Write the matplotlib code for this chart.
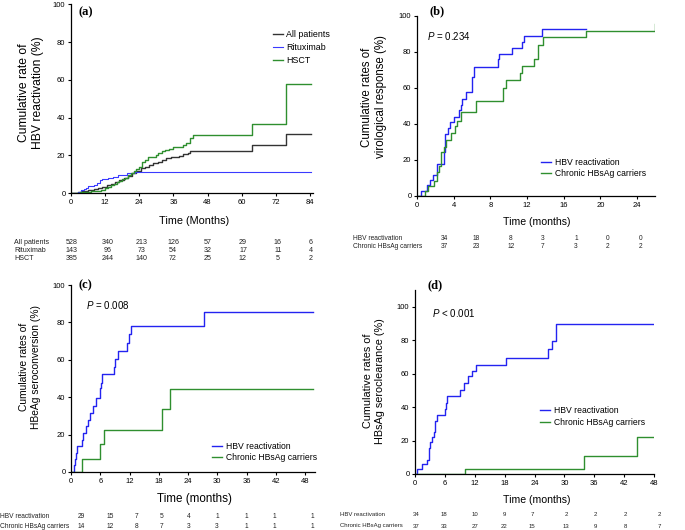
import matplotlib
matplotlib.use("Agg")
import matplotlib.pyplot as plt

plt.rcParams['font.family'] = 'Liberation Sans'
plt.rcParams['mathtext.fontset'] = 'custom'
plt.rcParams['mathtext.it'] = 'Liberation Sans:italic'
plt.rcParams['mathtext.rm'] = 'Liberation Sans'

BLUE = '#2323f0'
GREEN = '#2f8f2f'
BLACK = '#333333'

# ---- panel (a): HBV reactivation ----
a_all_t = [0, 2.5, 4, 6, 8, 9.5, 11, 12.5, 14, 15.5, 17, 18.5, 20, 21.5, 23, 24.5, 26, 27.5,
           29, 30.5, 32, 33.5, 35, 36.5, 38, 39.5, 41, 42, 43.5, 63.5, 75.5, 84.5]
a_all_y = [0, 0.5, 1, 1.5, 2, 2.5, 3.2, 4, 5, 6, 7, 8, 9.2, 10.5, 11.5, 13, 14, 15,
           15.7, 16.5, 17.5, 18.3, 19, 19.3, 19.7, 20.5, 21.3, 22, 22.5, 25.4, 31.5, 31.5]
a_rtx_t = [0, 2.6, 3.5, 4.5, 5.2, 6, 6.7, 8, 9, 10.2, 10.8, 13, 14.9, 16.6, 18, 19.6, 21, 22.5, 84.5]
a_rtx_y = [0, 0.7, 1.4, 2.1, 2.8, 3.5, 3.9, 4.5, 5.5, 6.9, 7.6, 7.9, 8.3, 9.5, 9.8, 10.4, 10.7, 10.9, 10.9]
a_hsct_t = [0, 3, 5, 7, 9, 10.5, 12, 13, 14, 15, 16, 17, 18, 19, 20, 21, 22, 23, 24, 24.8, 26,
            27.2, 28.5, 30, 30.7, 32, 33, 34.5, 36, 38, 39.5, 40.6, 41.8, 43, 63.5, 75.5, 84.5]
a_hsct_y = [0, 0.3, 0.6, 1, 1.3, 1.8, 2.5, 3.3, 4, 5, 5.8, 6.5, 7.3, 8.2, 9.3, 10.4, 11.5, 12.5, 14,
            16.6, 17.5, 18.9, 19.2, 20, 21, 22, 23, 23.5, 24.2, 24.6, 25.4, 26.6, 28.9, 30.5, 36.8, 57.8, 57.8]
a_groups = ['All patients', 'Rituximab', 'HSCT']
a_risk = [[528, 340, 213, 126, 57, 29, 16, 6],
          [143, 96, 73, 54, 32, 17, 11, 4],
          [385, 244, 140, 72, 25, 12, 5, 2]]

# ---- panel (b): virological response ----
b_hbv_t = [0, 0.47, 1.1, 1.46, 1.75, 2.2, 2.9, 3.1, 3.4, 3.65, 4.05, 4.6, 4.75, 4.9, 5.4, 5.95,
           6.05, 6.2, 8.8, 8.95, 10.4, 11.5, 11.7, 13.6, 18.4]
b_hbv_y = [0, 2.9, 5.9, 8.8, 11.8, 17.6, 24.6, 34.2, 37.5, 41, 44, 47.7, 50.5, 54, 57.9, 61,
           66, 71.7, 75.8, 78.7, 82.3, 85.6, 89, 92.4, 92.4]
b_chr_t = [0, 0.84, 1.2, 1.86, 2.2, 2.4, 2.66, 2.9, 3.2, 3.7, 4.1, 4.4, 4.85, 6.4, 9.4, 9.7,
           11.2, 11.5, 12.8, 13.2, 13.7, 18.4, 26.0]
b_chr_y = [0, 2.7, 5.4, 8.1, 13.5, 16.8, 24.6, 27.4, 31, 34.7, 38.8, 41.5, 46.8, 52.9, 60, 64.3,
           68, 72, 75.8, 84, 88, 91.7, 95.2]
b_groups = ['HBV reactivation', 'Chronic HBsAg carriers']
b_risk = [[34, 18, 8, 3, 1, 0, 0],
          [37, 23, 12, 7, 3, 2, 2]]

# ---- panel (c): HBeAg seroconversion ----
c_hbv_t = [0, 0.7, 0.9, 1.1, 1.3, 2.2, 2.5, 3.1, 3.5, 3.9, 4.6, 5.1, 5.9, 6.1, 6.4, 8.8, 9.0,
           9.7, 11.4, 11.8, 12.3, 27.3, 49.7]
c_hbv_y = [0, 3.5, 7, 10.3, 13.8, 17.2, 20.7, 24.4, 27.8, 31.4, 35.5, 39.4, 44.7, 47.8, 52.2,
           56.3, 60.6, 64.9, 69.2, 73.8, 78.0, 85.3, 85.3]
c_chr_t = [0, 2.2, 5.95, 6.8, 18.6, 20.3, 49.7]
c_chr_y = [0, 7.1, 14.8, 22.5, 33.7, 44.6, 44.6]
c_risk = [[29, 15, 7, 5, 4, 1, 1, 1, 1],
          [14, 12, 8, 7, 3, 3, 1, 1, 1]]

# ---- panel (d): HBsAg seroclearance ----
d_hbv_t = [0, 0.5, 1.5, 2.5, 2.9, 3.1, 3.5, 3.8, 4.0, 4.5, 6.0, 6.2, 6.5, 9.0, 9.8, 10.6,
           11.4, 12.2, 18.3, 26.8, 27.5, 28.3, 48]
d_hbv_y = [0, 3, 6, 8.5, 15.5, 19, 22, 25.4, 31.8, 35.4, 39, 42.7, 46.5, 50.3, 54.3, 58.3,
           61.8, 65.4, 69.6, 74.6, 79.5, 89.7, 89.7]
d_chr_t = [0, 10.0, 34.0, 44.5, 48]
d_chr_y = [0, 3.2, 10.9, 22.1, 22.1]
d_risk = [[34, 18, 10, 9, 7, 2, 2, 2, 2],
          [37, 33, 27, 22, 15, 13, 9, 8, 7]]

W, H = 685, 530
fig = plt.figure(figsize=(W / 100, H / 100), dpi=100)


def fx(x):
    return x / W


def fy(y):
    return 1 - y / H


def make_axes(left, right, top, bottom):
    ax = fig.add_axes([fx(left), fy(bottom), fx(right) - fx(left), fy(top) - fy(bottom)])
    ax.spines['top'].set_visible(False)
    ax.spines['right'].set_visible(False)
    for s in ('left', 'bottom'):
        ax.spines[s].set_linewidth(0.9)
    ax.tick_params(direction='out', length=2.5, width=0.8, labelsize=5.5, pad=1.5)
    return ax


def risk_table(labels, rows, label_x, num_x, row_y, size=5.1):
    for lab, row, y in zip(labels, rows, row_y):
        fig.text(fx(label_x), fy(y), lab, fontsize=size, ha='left', va='center', color='#222222')
        for v, x in zip(row, num_x):
            fig.text(fx(x), fy(y), str(v), fontsize=size, ha='center', va='center', color='#222222')


# (a)
ax = make_axes(71, 312.8, 4.3, 193)
ax.step(a_all_t, a_all_y, where='post', color=BLACK, lw=1, label='All patients')
ax.step(a_rtx_t, a_rtx_y, where='post', color='#3a3aff', lw=0.8, label='Rituximab')
ax.step(a_hsct_t, a_hsct_y, where='post', color=GREEN, lw=1, label='HSCT')
ax.set_xlim(0, 85)
ax.set_ylim(0, 100)
ax.set_xticks(range(0, 85, 12))
ax.set_yticks(range(0, 101, 20))
ax.legend(loc='upper left', bbox_to_anchor=(fx(273), fy(30)), bbox_transform=fig.transFigure,
          frameon=False, fontsize=6.4, handlelength=1.1, handletextpad=0.35, labelspacing=0.45,
          borderpad=0, borderaxespad=0)
fig.text(fx(86), fy(12), '(a)', fontfamily='Liberation Serif', fontweight='bold', fontsize=9,
         ha='center', va='center')
fig.text(fx(194), fy(221), 'Time (Months)', fontsize=7.8, ha='center', va='center')
fig.text(fx(31), fy(93), 'Cumulative rate of\nHBV reactivation (%)', fontsize=8.7,
         rotation=90, ha='center', va='center', linespacing=1.2)
risk_table(a_groups, a_risk, 14, [72, 108, 142, 173, 208, 243, 278, 311], [242, 250, 258])

# (b)
ax = make_axes(417, 655.3, 15.7, 196)
ax.step(b_hbv_t, b_hbv_y, where='post', color=BLUE, lw=1, label='HBV reactivation')
ax.step(b_chr_t, b_chr_y, where='post', color=GREEN, lw=1, label='Chronic HBsAg carriers')
ax.set_xlim(0, 26)
ax.set_ylim(0, 100)
ax.set_xticks(range(0, 25, 4))
ax.set_yticks(range(0, 101, 20))
ax.legend(loc='upper left', bbox_to_anchor=(fx(541), fy(158)), bbox_transform=fig.transFigure,
          frameon=False, fontsize=6.2, handlelength=1.2, handletextpad=0.4, labelspacing=0.2,
          borderpad=0, borderaxespad=0)
fig.text(fx(427), fy(36), '$P$ = 0.234', fontsize=7, ha='left', va='center')
fig.text(fx(437), fy(11), '(b)', fontfamily='Liberation Serif', fontweight='bold', fontsize=9,
         ha='center', va='center')
fig.text(fx(537), fy(222), 'Time (months)', fontsize=7.6, ha='center', va='center')
fig.text(fx(374), fy(97), 'Cumulative rates of\nvirological response (%)', fontsize=8.3,
         rotation=90, ha='center', va='center', linespacing=1.2)
risk_table(b_groups, b_risk, 353, [444, 476, 511, 543, 576, 608, 641], [239, 247], size=4.8)

# (c)
ax = make_axes(71, 314.8, 285, 472)
ax.step(c_hbv_t, c_hbv_y, where='post', color=BLUE, lw=1, label='HBV reactivation')
ax.step(c_chr_t, c_chr_y, where='post', color=GREEN, lw=1, label='Chronic HBsAg carriers')
ax.set_xlim(0, 50)
ax.set_ylim(0, 100)
ax.set_xticks(range(0, 49, 6))
ax.set_yticks(range(0, 101, 20))
ax.legend(loc='upper left', bbox_to_anchor=(fx(212), fy(442)), bbox_transform=fig.transFigure,
          frameon=False, fontsize=6.2, handlelength=1.2, handletextpad=0.45, labelspacing=0.25,
          borderpad=0, borderaxespad=0)
fig.text(fx(86), fy(305), '$P$ = 0.008', fontsize=7, ha='left', va='center')
fig.text(fx(85), fy(285), '(c)', fontfamily='Liberation Serif', fontweight='bold', fontsize=9,
         ha='center', va='center')
fig.text(fx(194), fy(499), 'Time (months)', fontsize=8.4, ha='center', va='center')
fig.text(fx(30), fy(367), 'Cumulative rates of\nHBeAg seroconversion (%)', fontsize=7.4,
         rotation=90, ha='center', va='center', linespacing=1.25)
risk_table(b_groups, c_risk, 0, [81, 110, 137, 162, 189, 217, 246, 274, 312], [517, 526], size=4.8)

# (d)
ax = make_axes(415, 654, 290, 474)
ax.step(d_hbv_t, d_hbv_y, where='post', color=BLUE, lw=1, label='HBV reactivation')
ax.step(d_chr_t, d_chr_y, where='post', color=GREEN, lw=1, label='Chronic HBsAg carriers')
ax.set_xlim(0, 48)
ax.set_ylim(0, 110)
ax.set_xticks(range(0, 49, 6))
ax.set_yticks(range(0, 101, 20))
ax.legend(loc='upper left', bbox_to_anchor=(fx(540), fy(406)), bbox_transform=fig.transFigure,
          frameon=False, fontsize=6.2, handlelength=1.2, handletextpad=0.45, labelspacing=0.3,
          borderpad=0, borderaxespad=0)
fig.text(fx(432), fy(313), '$P$ < 0.001', fontsize=7, ha='left', va='center')
fig.text(fx(435), fy(285), '(d)', fontfamily='Liberation Serif', fontweight='bold', fontsize=9,
         ha='center', va='center')
fig.text(fx(537), fy(500), 'Time (months)', fontsize=7.6, ha='center', va='center')
fig.text(fx(374), fy(381), 'Cumulative rates of\nHBsAg seroclearance (%)', fontsize=7.8,
         rotation=90, ha='center', va='center', linespacing=1.25)
risk_table(b_groups, d_risk, 340, [416, 444, 475, 504, 532, 566, 595, 625, 659], [514, 526], size=4.3)

fig.savefig('out.png', dpi=100)
